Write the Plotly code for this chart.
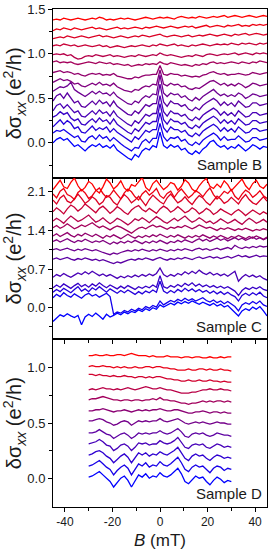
import plotly.graph_objects as go

# ---------------- data ----------------
# Magnetic field sampling, mT
B_FIELD_BC = [-45, -43.5, -42, -40.5, -39, -37.5, -36, -34.5, -33, -31.5,
              -30, -28.5, -27, -25.5, -24, -22.5, -21, -19.5, -18, -16.5,
              -15, -13.5, -12, -10.5, -9, -7.5, -6, -4.5, -3, -1.5,
              0, 1.5, 3, 4.5, 6, 7.5, 9, 10.5, 12, 13.5,
              15, 16.5, 18, 19.5, 21, 22.5, 24, 25.5, 27, 28.5,
              30, 31.5, 33, 34.5, 36, 37.5, 39, 40.5, 42, 43.5, 45]
B_FIELD_D = [-30, -28.5, -27, -25.5, -24, -22.5, -21, -19.5, -18, -16.5,
             -15, -13.5, -12, -10.5, -9, -7.5, -6, -4.5, -3, -1.5,
             0, 1.5, 3, 4.5, 6, 7.5, 9, 10.5, 12, 13.5,
             15, 16.5, 18, 19.5, 21, 22.5, 24, 25.5, 27, 28.5, 30]

# Sample B traces (bottom/blue -> top/red), e^2/h
b01 = [0.00, 0.04, 0.06, 0.03, 0.05, 0.01, -0.04, -0.02, -0.06, -0.09,
       -0.05, -0.02, -0.04, -0.01, -0.05, -0.03, -0.06, -0.02, -0.08, -0.11,
       -0.15, -0.17, -0.19, -0.13, -0.16, -0.09, -0.06, -0.08, -0.03, -0.05,
       0.12, -0.03, -0.06, -0.02, -0.05, -0.03, -0.08, -0.06, -0.11, -0.13,
       -0.09, -0.12, -0.07, -0.04, 0.01, 0.03, -0.02, -0.05, -0.03, -0.07,
       -0.04, -0.06, -0.02, -0.05, -0.09, -0.06, -0.02, -0.04, -0.07, -0.04,
       -0.05]
b02 = [0.11, 0.14, 0.13, 0.15, 0.12, 0.09, 0.06, 0.08, 0.02, 0.01,
       0.06, 0.08, 0.04, 0.09, 0.05, 0.07, 0.02, 0.06, 0.02, -0.01,
       -0.04, -0.07, -0.09, -0.05, -0.06, 0.01, 0.04, 0.00, 0.05, 0.05,
       0.22, 0.07, 0.02, 0.06, 0.05, 0.07, 0.02, 0.04, -0.01, -0.03,
       0.01, -0.02, 0.03, 0.06, 0.09, 0.11, 0.08, 0.03, 0.07, 0.03,
       0.04, 0.04, 0.08, 0.05, 0.01, 0.02, 0.06, 0.06, 0.03, 0.04,
       0.05]
b03 = [0.18, 0.22, 0.26, 0.21, 0.25, 0.22, 0.16, 0.18, 0.12, 0.11,
       0.15, 0.19, 0.14, 0.17, 0.15, 0.18, 0.12, 0.16, 0.12, 0.09,
       0.06, 0.03, 0.01, 0.07, 0.04, 0.09, 0.14, 0.12, 0.15, 0.15,
       0.34, 0.17, 0.12, 0.18, 0.15, 0.15, 0.12, 0.14, 0.09, 0.07,
       0.11, 0.08, 0.13, 0.16, 0.19, 0.21, 0.18, 0.13, 0.17, 0.13,
       0.16, 0.12, 0.18, 0.15, 0.11, 0.12, 0.16, 0.16, 0.13, 0.14,
       0.15]
b04 = [0.29, 0.31, 0.35, 0.32, 0.34, 0.28, 0.25, 0.27, 0.21, 0.20,
       0.24, 0.27, 0.23, 0.28, 0.24, 0.26, 0.21, 0.27, 0.21, 0.18,
       0.14, 0.12, 0.10, 0.16, 0.13, 0.18, 0.23, 0.21, 0.24, 0.24,
       0.44, 0.26, 0.21, 0.27, 0.24, 0.24, 0.21, 0.23, 0.18, 0.16,
       0.20, 0.17, 0.22, 0.25, 0.28, 0.30, 0.27, 0.22, 0.26, 0.22,
       0.25, 0.21, 0.27, 0.24, 0.20, 0.21, 0.25, 0.25, 0.22, 0.23,
       0.24]
b05 = [0.36, 0.42, 0.44, 0.39, 0.43, 0.39, 0.34, 0.36, 0.30, 0.29,
       0.33, 0.36, 0.32, 0.37, 0.33, 0.35, 0.30, 0.36, 0.30, 0.27,
       0.23, 0.21, 0.19, 0.25, 0.22, 0.27, 0.32, 0.30, 0.33, 0.33,
       0.53, 0.35, 0.30, 0.36, 0.33, 0.33, 0.30, 0.32, 0.27, 0.25,
       0.29, 0.26, 0.31, 0.34, 0.37, 0.39, 0.36, 0.31, 0.35, 0.31,
       0.34, 0.30, 0.36, 0.33, 0.29, 0.30, 0.34, 0.34, 0.31, 0.32,
       0.33]
b06 = [0.47, 0.53, 0.55, 0.50, 0.56, 0.50, 0.45, 0.47, 0.41, 0.40,
       0.44, 0.47, 0.43, 0.48, 0.44, 0.46, 0.41, 0.47, 0.41, 0.38,
       0.35, 0.32, 0.31, 0.36, 0.33, 0.38, 0.43, 0.41, 0.44, 0.44,
       0.66, 0.46, 0.41, 0.47, 0.44, 0.44, 0.41, 0.43, 0.38, 0.36,
       0.40, 0.37, 0.42, 0.45, 0.48, 0.50, 0.47, 0.42, 0.46, 0.42,
       0.45, 0.41, 0.47, 0.44, 0.40, 0.41, 0.45, 0.45, 0.42, 0.43,
       0.44]
b07 = [0.58, 0.61, 0.63, 0.62, 0.64, 0.68, 0.60, 0.57, 0.54, 0.52,
       0.55, 0.58, 0.55, 0.58, 0.55, 0.56, 0.53, 0.57, 0.52, 0.49,
       0.46, 0.44, 0.43, 0.47, 0.45, 0.50, 0.53, 0.51, 0.55, 0.54,
       0.76, 0.56, 0.52, 0.56, 0.54, 0.55, 0.51, 0.53, 0.49, 0.47,
       0.51, 0.48, 0.52, 0.55, 0.58, 0.60, 0.56, 0.53, 0.55, 0.52,
       0.54, 0.52, 0.56, 0.54, 0.50, 0.52, 0.55, 0.54, 0.52, 0.53,
       0.54]
b08 = [0.68, 0.70, 0.72, 0.70, 0.71, 0.69, 0.66, 0.67, 0.64, 0.63,
       0.65, 0.67, 0.65, 0.68, 0.65, 0.66, 0.64, 0.67, 0.63, 0.61,
       0.59, 0.58, 0.57, 0.60, 0.59, 0.62, 0.64, 0.63, 0.66, 0.65,
       0.82, 0.66, 0.64, 0.67, 0.65, 0.66, 0.63, 0.64, 0.61, 0.60,
       0.62, 0.61, 0.64, 0.66, 0.69, 0.70, 0.67, 0.65, 0.67, 0.64,
       0.66, 0.64, 0.67, 0.65, 0.62, 0.64, 0.67, 0.66, 0.64, 0.65,
       0.66]
b09 = [0.79, 0.80, 0.81, 0.79, 0.80, 0.79, 0.77, 0.78, 0.76, 0.75,
       0.77, 0.78, 0.77, 0.78, 0.76, 0.77, 0.76, 0.78, 0.75, 0.74,
       0.73, 0.72, 0.72, 0.74, 0.73, 0.75, 0.76, 0.76, 0.77, 0.77,
       0.87, 0.77, 0.76, 0.78, 0.77, 0.77, 0.75, 0.76, 0.75, 0.74,
       0.75, 0.74, 0.76, 0.77, 0.79, 0.80, 0.78, 0.77, 0.78, 0.76,
       0.77, 0.77, 0.78, 0.77, 0.76, 0.77, 0.79, 0.78, 0.77, 0.78,
       0.79]
b10 = [0.91, 0.92, 0.90, 0.91, 0.90, 0.91, 0.89, 0.88, 0.89, 0.90,
       0.91, 0.90, 0.89, 0.91, 0.90, 0.89, 0.90, 0.88, 0.89, 0.88,
       0.87, 0.88, 0.86, 0.87, 0.88, 0.87, 0.89, 0.88, 0.89, 0.88,
       0.91, 0.89, 0.88, 0.90, 0.89, 0.88, 0.87, 0.88, 0.87, 0.86,
       0.88, 0.87, 0.89, 0.88, 0.90, 0.91, 0.89, 0.90, 0.89, 0.90,
       0.91, 0.90, 0.89, 0.91, 0.90, 0.89, 0.91, 0.90, 0.92, 0.91,
       0.90]
b11 = [0.99, 1.00, 0.99, 1.00, 0.98, 0.99, 0.96, 0.94, 0.95, 0.97,
       0.98, 0.97, 0.99, 0.98, 0.97, 0.98, 0.99, 0.97, 0.98, 0.97,
       0.96, 0.97, 0.98, 0.97, 0.99, 0.98, 0.97, 0.98, 0.99, 0.98,
       1.01, 0.99, 0.98, 0.99, 0.98, 0.97, 0.96, 0.97, 0.98, 0.97,
       0.99, 0.98, 0.97, 0.99, 1.00, 0.99, 0.98, 0.99, 1.00, 0.99,
       1.00, 1.01, 0.99, 1.00, 1.01, 1.00, 0.99, 1.01, 1.00, 1.01,
       1.00]
b12 = [1.09, 1.10, 1.09, 1.11, 1.10, 1.09, 1.10, 1.08, 1.09, 1.10,
       1.09, 1.08, 1.09, 1.10, 1.08, 1.09, 1.07, 1.08, 1.09, 1.08,
       1.07, 1.08, 1.09, 1.08, 1.09, 1.10, 1.09, 1.08, 1.10, 1.09,
       1.11, 1.10, 1.09, 1.10, 1.11, 1.09, 1.10, 1.09, 1.08, 1.10,
       1.09, 1.10, 1.11, 1.10, 1.09, 1.10, 1.11, 1.10, 1.11, 1.10,
       1.12, 1.11, 1.10, 1.12, 1.11, 1.12, 1.11, 1.10, 1.12, 1.11,
       1.12]
b13 = [1.17, 1.18, 1.19, 1.18, 1.20, 1.19, 1.18, 1.19, 1.20, 1.19,
       1.18, 1.19, 1.20, 1.21, 1.19, 1.20, 1.19, 1.18, 1.19, 1.20,
       1.19, 1.18, 1.19, 1.20, 1.19, 1.21, 1.20, 1.19, 1.20, 1.21,
       1.22, 1.20, 1.19, 1.20, 1.21, 1.20, 1.19, 1.20, 1.21, 1.19,
       1.20, 1.21, 1.20, 1.21, 1.22, 1.21, 1.20, 1.21, 1.22, 1.21,
       1.20, 1.22, 1.21, 1.22, 1.23, 1.21, 1.22, 1.23, 1.22, 1.21,
       1.22]
b14 = [1.26, 1.28, 1.27, 1.29, 1.28, 1.27, 1.29, 1.28, 1.27, 1.28,
       1.29, 1.30, 1.28, 1.29, 1.28, 1.27, 1.28, 1.29, 1.30, 1.28,
       1.29, 1.28, 1.29, 1.30, 1.29, 1.28, 1.30, 1.29, 1.30, 1.31,
       1.30, 1.29, 1.30, 1.31, 1.30, 1.29, 1.30, 1.31, 1.30, 1.31,
       1.29, 1.30, 1.31, 1.32, 1.30, 1.31, 1.32, 1.31, 1.30, 1.32,
       1.31, 1.32, 1.33, 1.31, 1.32, 1.31, 1.33, 1.32, 1.33, 1.32,
       1.33]
b15 = [1.38, 1.39, 1.38, 1.40, 1.39, 1.38, 1.39, 1.40, 1.39, 1.38,
       1.39, 1.40, 1.39, 1.41, 1.40, 1.38, 1.39, 1.38, 1.39, 1.40,
       1.39, 1.40, 1.39, 1.38, 1.39, 1.40, 1.41, 1.40, 1.39, 1.40,
       1.41, 1.40, 1.41, 1.40, 1.39, 1.41, 1.42, 1.41, 1.40, 1.41,
       1.40, 1.42, 1.41, 1.40, 1.41, 1.42, 1.41, 1.42, 1.43, 1.41,
       1.42, 1.43, 1.42, 1.41, 1.42, 1.43, 1.42, 1.41, 1.42, 1.43,
       1.42]

# Sample C traces (bottom/blue -> top/red)
c01 = [-0.25, -0.19, -0.13, -0.16, -0.11, -0.15, -0.18, -0.14, -0.31, -0.17,
       -0.12, -0.16, -0.10, -0.15, -0.21, -0.12, -0.17, -0.14, -0.10, -0.13,
       -0.08, -0.11, -0.07, -0.09, -0.04, -0.07, -0.02, -0.05, 0.00, -0.03,
       0.05, 0.01, 0.04, 0.08, 0.05, 0.10, 0.07, 0.11, 0.08, 0.12,
       0.09, 0.06, 0.10, 0.07, 0.04, 0.08, 0.03, 0.06, 0.01, 0.04,
       -0.02, -0.08, -0.15, -0.06, -0.02, -0.05, 0.01, -0.03, 0.02, -0.06,
       -0.15]
c02 = [0.18, 0.24, 0.20, 0.27, 0.22, 0.19, 0.25, 0.21, 0.17, 0.23,
       0.26, 0.21, 0.24, 0.19, 0.22, 0.26, 0.20, -0.12, -0.08, -0.10,
       -0.05, -0.08, -0.03, -0.06, -0.01, -0.04, 0.02, -0.01, 0.04, 0.01,
       0.12, 0.05, 0.09, 0.13, 0.10, 0.15, 0.12, 0.17, 0.13, 0.16,
       0.12, 0.15, 0.18, 0.13, 0.10, 0.14, 0.09, 0.12, 0.07, 0.11,
       0.06, 0.02, -0.06, 0.05, 0.09, 0.06, 0.11, 0.07, 0.12, 0.05,
       0.02]
c03 = [0.28, 0.33, 0.29, 0.35, 0.31, 0.27, 0.33, 0.38, 0.30, 0.34,
       0.29, 0.36, 0.32, 0.38, 0.33, 0.28, 0.34, 0.30, 0.26, 0.31,
       0.27, 0.32, 0.28, 0.24, 0.29, 0.25, 0.30, 0.27, 0.32, 0.28,
       0.48, 0.30, 0.26, 0.31, 0.27, 0.33, 0.29, 0.35, 0.30, 0.34,
       0.29, 0.33, 0.28, 0.31, 0.26, 0.30, 0.25, 0.29, 0.24, 0.28,
       0.23, 0.20, 0.12, 0.22, 0.26, 0.22, 0.27, 0.23, 0.28, 0.21,
       0.18]
c04 = [0.36, 0.41, 0.37, 0.43, 0.39, 0.35, 0.40, 0.44, 0.38, 0.42,
       0.37, 0.43, 0.39, 0.45, 0.40, 0.36, 0.41, 0.38, 0.34, 0.39,
       0.35, 0.40, 0.37, 0.33, 0.38, 0.35, 0.39, 0.36, 0.41, 0.37,
       0.58, 0.38, 0.35, 0.40, 0.37, 0.42, 0.38, 0.44, 0.40, 0.45,
       0.39, 0.43, 0.38, 0.41, 0.37, 0.40, 0.36, 0.39, 0.35, 0.38,
       0.34, 0.30, 0.22, 0.31, 0.36, 0.33, 0.37, 0.34, 0.38, 0.33,
       0.31]
c05 = [0.55, 0.60, 0.57, 0.62, 0.58, 0.55, 0.59, 0.63, 0.60, 0.65,
       0.61, 0.66, 0.62, 0.58, 0.61, 0.57, 0.60, 0.56, 0.53, 0.57,
       0.54, 0.58, 0.55, 0.59, 0.56, 0.60, 0.57, 0.61, 0.58, 0.62,
       0.72, 0.60, 0.56, 0.60, 0.57, 0.62, 0.59, 0.65, 0.61, 0.66,
       0.62, 0.68, 0.63, 0.60, 0.64, 0.59, 0.62, 0.58, 0.61, 0.57,
       0.62, 0.66, 0.48, 0.55, 0.60, 0.56, 0.59, 0.55, 0.58, 0.53,
       0.50]
c06 = [0.88, 0.90, 0.87, 0.89, 0.91, 0.88, 0.86, 0.89, 0.87, 0.90,
       0.88, 0.86, 0.88, 0.85, 0.87, 0.84, 0.82, 0.80, 0.83, 0.81,
       0.84, 0.86, 0.88, 0.86, 0.89, 0.87, 0.90, 0.88, 0.86, 0.89,
       0.91, 0.88, 0.86, 0.89, 0.87, 0.90, 0.88, 0.91, 0.89, 0.87,
       0.90, 0.92, 0.89, 0.91, 0.93, 0.90, 0.92, 0.89, 0.91, 0.93,
       0.90, 0.92, 0.95, 0.92, 0.94, 0.91, 0.93, 0.95, 0.92, 0.94,
       0.93]
c07 = [1.05, 1.07, 1.04, 1.06, 1.08, 1.05, 1.03, 1.06, 1.04, 1.07,
       1.05, 1.03, 1.05, 1.02, 1.00, 0.98, 0.96, 0.99, 0.97, 1.00,
       1.02, 1.04, 1.02, 1.05, 1.03, 1.06, 1.04, 1.02, 1.05, 1.03,
       1.06, 1.04, 1.02, 1.05, 1.03, 1.06, 1.04, 1.07, 1.05, 1.03,
       1.06, 1.08, 1.05, 1.07, 1.04, 1.06, 1.08, 1.05, 1.07, 1.09,
       1.06, 1.13, 1.09, 1.07, 1.10, 1.08, 1.11, 1.09, 1.12, 1.10,
       1.11]
c08 = [1.20, 1.23, 1.19, 1.22, 1.25, 1.21, 1.18, 1.22, 1.20, 1.24,
       1.21, 1.18, 1.21, 1.19, 1.22, 1.18, 1.15, 1.19, 1.16, 1.20,
       1.17, 1.21, 1.18, 1.22, 1.19, 1.16, 1.20, 1.17, 1.21, 1.18,
       1.22, 1.19, 1.16, 1.20, 1.18, 1.22, 1.19, 1.23, 1.20, 1.18,
       1.22, 1.25, 1.21, 1.24, 1.20, 1.23, 1.26, 1.22, 1.25, 1.21,
       1.24, 1.27, 1.23, 1.26, 1.22, 1.25, 1.28, 1.24, 1.27, 1.23,
       1.26]
c09 = [1.30, 1.34, 1.29, 1.33, 1.36, 1.31, 1.28, 1.33, 1.30, 1.35,
       1.32, 1.29, 1.33, 1.30, 1.26, 1.31, 1.28, 1.32, 1.29, 1.25,
       1.29, 1.33, 1.29, 1.26, 1.30, 1.27, 1.31, 1.28, 1.32, 1.29,
       1.33, 1.30, 1.27, 1.31, 1.28, 1.32, 1.29, 1.26, 1.30, 1.27,
       1.31, 1.28, 1.32, 1.29, 1.26, 1.30, 1.27, 1.31, 1.28, 1.25,
       1.29, 1.27, 1.31, 1.28, 1.25, 1.29, 1.26, 1.30, 1.27, 1.24,
       1.28]
c10 = [1.45, 1.49, 1.44, 1.47, 1.52, 1.48, 1.43, 1.46, 1.50, 1.47,
       1.51, 1.54, 1.49, 1.45, 1.48, 1.44, 1.41, 1.45, 1.48, 1.46,
       1.42, 1.38, 1.35, 1.40, 1.44, 1.46, 1.43, 1.47, 1.50, 1.46,
       1.48, 1.45, 1.42, 1.46, 1.44, 1.47, 1.45, 1.49, 1.46, 1.43,
       1.46, 1.50, 1.47, 1.44, 1.46, 1.43, 1.40, 1.44, 1.42, 1.45,
       1.43, 1.40, 1.43, 1.41, 1.44, 1.42, 1.39, 1.42, 1.40, 1.43,
       1.41]
c11 = [1.57, 1.62, 1.58, 1.53, 1.60, 1.66, 1.61, 1.56, 1.59, 1.64,
       1.68, 1.61, 1.55, 1.58, 1.63, 1.57, 1.52, 1.56, 1.62, 1.59,
       1.54, 1.50, 1.55, 1.61, 1.58, 1.63, 1.59, 1.54, 1.60, 1.65,
       1.61, 1.56, 1.53, 1.58, 1.62, 1.57, 1.61, 1.66, 1.60, 1.55,
       1.58, 1.63, 1.59, 1.54, 1.57, 1.52, 1.56, 1.61, 1.57, 1.53,
       1.56, 1.60, 1.55, 1.51, 1.57, 1.62, 1.58, 1.53, 1.56, 1.60,
       1.55]
c12 = [1.74, 1.81, 1.76, 1.70, 1.79, 1.86, 1.82, 1.75, 1.80, 1.88,
       1.83, 1.77, 1.72, 1.80, 1.84, 1.78, 1.71, 1.76, 1.83, 1.79,
       1.73, 1.69, 1.77, 1.82, 1.85, 1.78, 1.74, 1.80, 1.76, 1.71,
       1.79, 1.84, 1.80, 1.73, 1.77, 1.83, 1.78, 1.72, 1.75, 1.81,
       1.77, 1.70, 1.74, 1.80, 1.76, 1.69, 1.73, 1.79, 1.75, 1.71,
       1.68, 1.74, 1.78, 1.73, 1.67, 1.72, 1.77, 1.73, 1.69, 1.74,
       1.70]
c13 = [1.95, 1.88, 1.99, 2.04, 1.93, 1.90, 1.97, 2.06, 1.98, 1.89,
       1.94, 2.01, 1.96, 1.87, 1.92, 2.03, 2.00, 1.91, 1.86, 1.97,
       2.05, 1.99, 1.90, 1.95, 2.02, 1.93, 1.85, 1.96, 2.04, 1.98,
       1.92, 1.88, 1.99, 2.06, 1.97, 1.90, 1.94, 2.01, 1.93, 1.87,
       1.96, 2.03, 1.99, 1.91, 1.86, 1.95, 2.02, 1.97, 1.89, 1.93,
       2.00, 1.94, 1.88, 1.98, 2.05, 1.96, 1.90, 1.87, 1.95, 2.01,
       1.93]
c14 = [2.06, 1.99, 2.11, 2.16, 2.05, 2.02, 1.96, 2.09, 2.14, 2.08,
       1.98, 2.03, 2.12, 2.17, 2.07, 2.00, 2.04, 2.13, 2.05, 1.97,
       2.08, 2.15, 2.10, 2.01, 1.95, 2.06, 2.12, 2.04, 2.09, 2.16,
       2.03, 1.98, 2.07, 2.11, 2.00, 2.09, 2.15, 2.06, 1.99, 2.04,
       2.12, 2.08, 2.01, 2.10, 2.17, 2.05, 1.97, 2.03, 2.11, 2.07,
       2.14, 2.02, 1.96, 2.06, 2.13, 2.09, 2.00, 2.05, 2.12, 2.03,
       1.98]
c15 = [2.14, 2.22, 2.31, 2.19, 2.16, 2.27, 2.35, 2.21, 2.12, 2.18,
       2.29, 2.24, 2.13, 2.08, 2.19, 2.33, 2.26, 2.15, 2.21, 2.30,
       2.17, 2.11, 2.23, 2.20, 2.28, 2.36, 2.18, 2.12, 2.25, 2.31,
       2.22, 2.14, 2.19, 2.27, 2.24, 2.13, 2.20, 2.32, 2.26, 2.15,
       2.10, 2.21, 2.29, 2.34, 2.20, 2.16, 2.24, 2.18, 2.30, 2.23,
       2.12, 2.19, 2.28, 2.33, 2.21, 2.14, 2.25, 2.31, 2.20, 2.16,
       2.24]

# Sample D traces (bottom/blue -> top/red)
d01 = [0.01, 0.02, 0.04, 0.06, 0.03, 0.00, -0.03, -0.08, -0.04, 0.00,
       0.02, -0.02, -0.08, -0.03, 0.03, 0.01, 0.04, 0.00, 0.02, 0.01,
       0.05, 0.02, 0.01, 0.03, 0.06, 0.09, 0.04, -0.03, -0.05, -0.01,
       0.02, 0.00, 0.01, -0.03, -0.06, -0.02, 0.01, -0.01, -0.04, -0.02,
       -0.03]
d02 = [0.11, 0.12, 0.14, 0.16, 0.13, 0.10, 0.08, 0.03, 0.07, 0.10,
       0.12, 0.09, 0.03, 0.08, 0.13, 0.11, 0.14, 0.10, 0.12, 0.11,
       0.15, 0.12, 0.11, 0.13, 0.16, 0.19, 0.14, 0.08, 0.06, 0.10,
       0.12, 0.10, 0.11, 0.08, 0.05, 0.09, 0.11, 0.10, 0.07, 0.09,
       0.08]
d03 = [0.21, 0.22, 0.24, 0.25, 0.23, 0.20, 0.18, 0.14, 0.17, 0.20,
       0.22, 0.19, 0.14, 0.18, 0.23, 0.21, 0.23, 0.20, 0.22, 0.21,
       0.24, 0.22, 0.21, 0.23, 0.25, 0.28, 0.23, 0.18, 0.16, 0.20,
       0.22, 0.20, 0.21, 0.18, 0.16, 0.19, 0.21, 0.20, 0.18, 0.19,
       0.18]
d04 = [0.31, 0.32, 0.33, 0.35, 0.33, 0.30, 0.29, 0.25, 0.27, 0.30,
       0.31, 0.29, 0.25, 0.28, 0.32, 0.31, 0.32, 0.30, 0.31, 0.31,
       0.34, 0.32, 0.31, 0.32, 0.34, 0.37, 0.33, 0.28, 0.27, 0.30,
       0.31, 0.30, 0.31, 0.28, 0.27, 0.29, 0.31, 0.30, 0.28, 0.29,
       0.28]
d05 = [0.41, 0.41, 0.42, 0.44, 0.42, 0.40, 0.39, 0.36, 0.38, 0.40,
       0.41, 0.39, 0.36, 0.38, 0.41, 0.40, 0.41, 0.40, 0.41, 0.41,
       0.43, 0.41, 0.40, 0.41, 0.43, 0.45, 0.42, 0.38, 0.37, 0.40,
       0.41, 0.40, 0.41, 0.39, 0.38, 0.39, 0.41, 0.40, 0.39, 0.39,
       0.38]
d06 = [0.52, 0.52, 0.53, 0.54, 0.53, 0.51, 0.50, 0.48, 0.49, 0.51,
       0.52, 0.51, 0.48, 0.50, 0.52, 0.51, 0.52, 0.51, 0.52, 0.52,
       0.54, 0.52, 0.51, 0.52, 0.53, 0.54, 0.52, 0.50, 0.49, 0.50,
       0.51, 0.50, 0.51, 0.50, 0.49, 0.50, 0.51, 0.50, 0.50, 0.49,
       0.49]
d07 = [0.61, 0.61, 0.62, 0.62, 0.63, 0.62, 0.61, 0.60, 0.61, 0.61,
       0.62, 0.61, 0.60, 0.61, 0.62, 0.61, 0.62, 0.61, 0.62, 0.62,
       0.63, 0.62, 0.61, 0.61, 0.62, 0.62, 0.61, 0.60, 0.59, 0.59,
       0.60, 0.60, 0.61, 0.60, 0.59, 0.60, 0.60, 0.59, 0.60, 0.59,
       0.59]
d08 = [0.71, 0.72, 0.72, 0.73, 0.74, 0.73, 0.72, 0.71, 0.71, 0.70,
       0.71, 0.71, 0.70, 0.71, 0.71, 0.70, 0.71, 0.71, 0.72, 0.71,
       0.73, 0.71, 0.71, 0.70, 0.70, 0.69, 0.68, 0.68, 0.67, 0.68,
       0.68, 0.69, 0.70, 0.69, 0.70, 0.69, 0.70, 0.70, 0.69, 0.70,
       0.69]
d09 = [0.80, 0.81, 0.80, 0.81, 0.82, 0.81, 0.81, 0.80, 0.81, 0.80,
       0.81, 0.82, 0.81, 0.80, 0.81, 0.82, 0.83, 0.82, 0.81, 0.81,
       0.82, 0.81, 0.80, 0.80, 0.79, 0.78, 0.77, 0.77, 0.77, 0.78,
       0.78, 0.79, 0.80, 0.80, 0.81, 0.80, 0.80, 0.81, 0.80, 0.80,
       0.79]
d10 = [0.94, 0.94, 0.93, 0.94, 0.93, 0.93, 0.92, 0.93, 0.92, 0.92,
       0.93, 0.92, 0.92, 0.91, 0.92, 0.92, 0.91, 0.92, 0.91, 0.92,
       0.92, 0.91, 0.90, 0.90, 0.89, 0.89, 0.88, 0.88, 0.89, 0.88,
       0.88, 0.89, 0.88, 0.88, 0.89, 0.88, 0.88, 0.87, 0.88, 0.87,
       0.87]
d11 = [1.01, 1.02, 1.01, 1.01, 1.02, 1.01, 1.01, 1.00, 1.01, 1.00,
       1.01, 1.00, 1.00, 1.01, 1.00, 1.00, 1.01, 1.01, 1.00, 1.01,
       1.01, 1.00, 1.00, 0.99, 0.99, 0.98, 0.98, 0.98, 0.99, 0.98,
       0.98, 0.99, 0.99, 0.98, 0.99, 0.98, 0.98, 0.99, 0.98, 0.98,
       0.97]
d12 = [1.11, 1.11, 1.12, 1.11, 1.11, 1.12, 1.11, 1.11, 1.12, 1.12,
       1.11, 1.12, 1.13, 1.12, 1.11, 1.11, 1.11, 1.10, 1.11, 1.10,
       1.10, 1.10, 1.11, 1.10, 1.10, 1.10, 1.09, 1.10, 1.10, 1.09,
       1.10, 1.10, 1.09, 1.09, 1.10, 1.09, 1.09, 1.10, 1.09, 1.10,
       1.10]

SAMPLE_B = [b01, b02, b03, b04, b05, b06, b07, b08, b09, b10, b11, b12, b13, b14, b15]
SAMPLE_C = [c01, c02, c03, c04, c05, c06, c07, c08, c09, c10, c11, c12, c13, c14, c15]
SAMPLE_D = [d01, d02, d03, d04, d05, d06, d07, d08, d09, d10, d11, d12]

PANEL_LABELS = ["Sample B", "Sample C", "Sample D"]
X_TICKS = [-40, -20, 0, 20, 40]
X_TICK_TEXT = ["-40", "-20", "0", "20", "40"]
Y_TICKS_B = [0.0, 0.5, 1.0, 1.5]
Y_TICKS_C = [0.0, 0.7, 1.4, 2.1]
Y_TICKS_D = [0.0, 0.5, 1.0]

for arr in SAMPLE_B + SAMPLE_C:
    assert len(arr) == len(B_FIELD_BC), len(arr)
for arr in SAMPLE_D:
    assert len(arr) == len(B_FIELD_D), len(arr)

# ---------------- figure ----------------
FONT = "Liberation Sans, Arial, Helvetica, sans-serif"
INK = "#1a1a1a"


def ramp(i, n):
    t = i / (n - 1)
    return "rgb(%d,0,%d)" % (round(255 * t), round(255 * (1 - t)))


fig = go.Figure()
panels = [
    (SAMPLE_B, B_FIELD_BC, "x", "y"),
    (SAMPLE_C, B_FIELD_BC, "x2", "y2"),
    (SAMPLE_D, B_FIELD_D, "x3", "y3"),
]
for traces, xs, xa, ya in panels:
    n = len(traces)
    for i, ys in enumerate(traces):
        fig.add_trace(go.Scatter(
            x=xs, y=ys, xaxis=xa, yaxis=ya, mode="lines",
            line=dict(color=ramp(i, n), width=1.3),
            hoverinfo="skip", showlegend=False))

H0, H1 = 507 - 338, 507 - 175
TOT = 502.0
dom_D = [0, H0 / TOT]
dom_C = [H0 / TOT, H1 / TOT]
dom_B = [H1 / TOT, 1]

axis_common = dict(
    showline=True, linecolor="black", linewidth=1, mirror=True,
    ticks="outside", ticklen=4, tickwidth=1, tickcolor="black",
    showgrid=False, zeroline=False,
    tickfont=dict(family=FONT, size=13, color=INK),
)
xminor = dict(tickmode="array", tickvals=[-30, -10, 10, 30], ticks="outside",
              ticklen=3, tickcolor="black", showgrid=False)


def xaxis(anchor, labels):
    d = dict(axis_common)
    d.update(range=[-45, 45], anchor=anchor, tickmode="array",
             tickvals=X_TICKS, ticktext=X_TICK_TEXT,
             showticklabels=labels, minor=xminor)
    d["tickfont"] = dict(family=FONT, size=12, color=INK)
    return d


YTITLE = "δσ<sub><i>xx</i></sub> (e<sup>2</sup>/h)"


def yaxis(anchor, dom, rng, ticks, minor_vals):
    d = dict(axis_common)
    d.update(domain=dom, range=rng, anchor=anchor, tickmode="array",
             tickvals=ticks, ticktext=["%.1f" % t for t in ticks],
             ticklabeloverflow="allow",
             minor=dict(tickmode="array", tickvals=minor_vals, ticks="outside",
                        ticklen=3, tickcolor="black", showgrid=False),
             title=dict(text=YTITLE, font=dict(family=FONT, size=20, color=INK),
                        standoff=2))
    return d


fig.update_layout(
    width=270, height=550,
    margin=dict(l=53, r=2, t=5, b=43),
    paper_bgcolor="white", plot_bgcolor="white",
    font=dict(family=FONT, color=INK),
    xaxis=xaxis("y", False),
    xaxis2=xaxis("y2", False),
    xaxis3=xaxis("y3", True),
    yaxis=yaxis("x", dom_B, [-0.39, 1.503], Y_TICKS_B, [-0.25, 0.25, 0.75, 1.25]),
    yaxis2=yaxis("x2", dom_C, [-0.575, 2.357], Y_TICKS_C, [-0.35, 0.35, 1.05, 1.75]),
    yaxis3=yaxis("x3", dom_D, [-0.261, 1.258], Y_TICKS_D, [0.25, 0.75]),
)
fig.layout.xaxis2.matches = "x"
fig.layout.xaxis3.matches = "x"
fig.layout.xaxis3.title = dict(text="<i>B</i> (mT)",
                               font=dict(family=FONT, size=17, color=INK),
                               standoff=6)

for lbl, xr, yr in zip(PANEL_LABELS, ["x domain", "x2 domain", "x3 domain"],
                       ["y domain", "y2 domain", "y3 domain"]):
    fig.add_annotation(text=lbl, xref=xr, yref=yr, x=0.985, y=0.015,
                       xanchor="right", yanchor="bottom", showarrow=False,
                       font=dict(family=FONT, size=15, color=INK))

fig.write_html("out.html",
               config={"displayModeBar": False, "staticPlot": True},
               post_script="document.body.style.margin='0';"
                           "document.body.style.overflow='hidden';")
